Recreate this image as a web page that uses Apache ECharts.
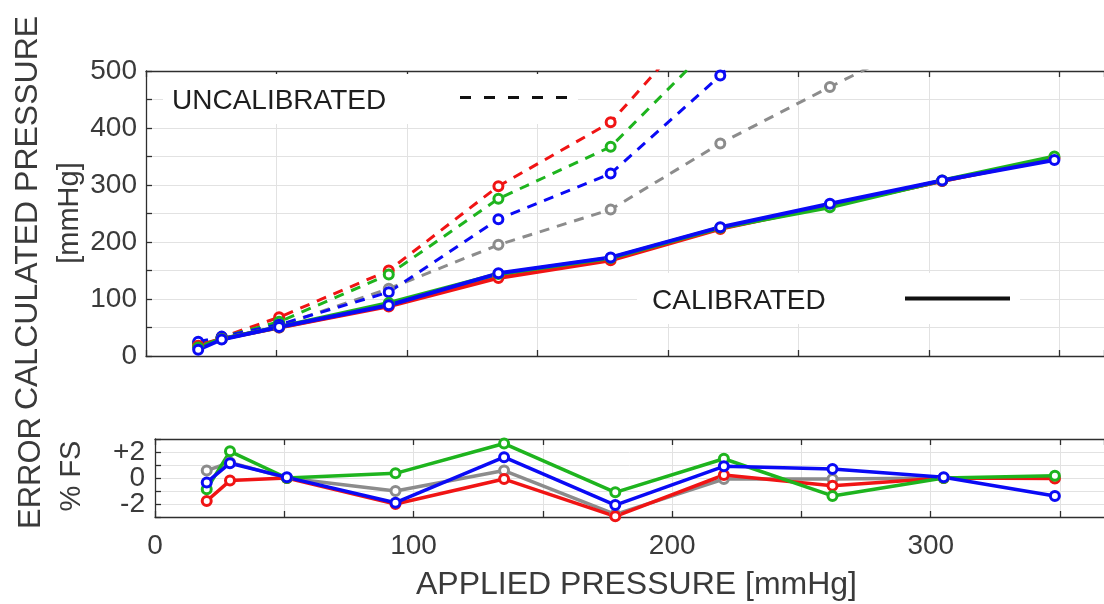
<!DOCTYPE html>
<html>
<head>
<meta charset="utf-8">
<title>Calculated pressure vs applied pressure</title>
<script src="https://cdn.jsdelivr.net/npm/echarts@6/dist/echarts.min.js"></script>
<style>
  html, body { margin: 0; padding: 0; background: #ffffff; overflow: hidden; }
  #chart { width: 1104px; height: 604px; }
</style>
</head>
<body>
<div id="chart"></div>
<script>
// Applied reference pressures [mmHg]
const appliedPressure = [20, 29, 51, 93, 135, 178, 220, 262, 305, 348];

// Uncalibrated sensor readings [mmHg] (null = off the top of the scale)
const uncalRed   = [23, 33, 68, 150, 298, 410, 625, null, null, null];
const uncalGreen = [23, 33, 60, 143, 276, 367, 560, null, null, null];
const uncalBlue  = [25, 34, 55, 112, 240, 320, 492, 680, null, null];
const uncalGray  = [22, 32, 53, 118, 195, 257, 373, 472, 570, null];

// Calibrated sensor readings [mmHg]
const calRed   = [18, 30, 50, 87, 137, 168, 223, 264, 307, 347];
const calGreen = [15, 30, 51, 93, 144, 172, 225, 261, 308, 350];
const calBlue  = [11, 29, 51, 89, 145, 173, 226, 267, 308, 344];
const calGray  = [17, 30, 50, 89, 140, 170, 224, 264, 307, 348];

// Error of calibrated readings [% full scale]
const errRed   = [-1.77, -0.2, 0.0, -2.0, -0.08, -2.95, 0.23, -0.6, 0.0, -0.03];
const errGreen = [-0.86, 2.05, 0.0, 0.36, 2.65, -1.1, 1.48, -1.38, 0.0, 0.18];
const errBlue  = [-0.34, 1.14, 0.05, -1.9, 1.6, -2.08, 0.9, 0.7, 0.05, -1.38];
const errGray  = [0.57, 1.2, 0.0, -1.0, 0.57, -2.8, -0.08, -0.08, 0.0, 0.0];

// Axis tick labels
const xTickLabels = [0, 100, 200, 300];
const pressureTickLabels = [0, 100, 200, 300, 400, 500];
const errorTickLabels = { '2': '+2', '0': '0', '-2': '-2' };

const COLORS = { red: '#f01414', green: '#1eb41e', blue: '#0a0af5', gray: '#8c8c8c' };
const FONT = 'Liberation Sans, Arial, Helvetica, sans-serif';
const TEXT = '#3a3a3a';
const AXIS = '#2e2e2e';
const GRID = '#e2e2e2';

function pairs(values) {
  const out = [];
  appliedPressure.forEach((x, i) => {
    if (values[i] !== null && values[i] !== undefined) out.push([x, values[i]]);
  });
  return out;
}

// open circle markers: white fill with a heavy coloured ring
function lineSeries(values, color, opts) {
  return Object.assign({
    type: 'line',
    data: pairs(values),
    symbol: 'circle',
    symbolSize: 9,
    clip: true,
    animation: false,
    silent: true,
    lineStyle: { color: color, width: 3.5 },
    itemStyle: { color: '#ffffff', borderColor: color, borderWidth: 3 },
    z: 3
  }, opts);
}

function xAxisBase(gridIndex, position, withLabels) {
  return {
    type: 'value',
    gridIndex: gridIndex,
    position: position,
    min: 0,
    max: 367,
    interval: 50,
    axisLine: { show: true, onZero: false, lineStyle: { color: AXIS, width: 1.3 } },
    axisTick: { show: true, inside: true, length: 6, lineStyle: { color: AXIS, width: 1.3 } },
    axisLabel: withLabels ? {
      show: true,
      margin: 15,
      fontSize: 28,
      fontFamily: FONT,
      color: TEXT,
      showMaxLabel: false,
      formatter: v => (xTickLabels.indexOf(v) >= 0 ? String(v) : '')
    } : { show: false },
    splitLine: { show: position === 'bottom', lineStyle: { color: GRID, width: 1 } }
  };
}

const chart = echarts.init(document.getElementById('chart'), null, { renderer: 'canvas' });

const option = {
  backgroundColor: '#ffffff',
  animation: false,
  grid: [
    { left: 146, right: -2, top: 71, height: 285, containLabel: false },
    { left: 155, right: -2, top: 439, height: 78, containLabel: false }
  ],
  xAxis: [
    xAxisBase(0, 'bottom', false),
    xAxisBase(0, 'top', false),
    Object.assign(xAxisBase(1, 'bottom', true), {
      name: 'APPLIED PRESSURE [mmHg]',
      nameLocation: 'middle',
      nameGap: 52,
      nameTextStyle: { fontSize: 32, fontFamily: FONT, color: TEXT, padding: [0, 0, 0, 14] }
    }),
    xAxisBase(1, 'top', false)
  ],
  yAxis: [
    {
      type: 'value',
      gridIndex: 0,
      min: 0,
      max: 500,
      interval: 50,
      axisLine: { show: true, lineStyle: { color: AXIS, width: 1.3 } },
      axisTick: { show: true, inside: true, length: 6, lineStyle: { color: AXIS, width: 1.3 } },
      axisLabel: {
        margin: 9,
        fontSize: 28,
        fontFamily: FONT,
        color: TEXT,
        formatter: v => (pressureTickLabels.indexOf(v) >= 0 ? String(v) : '')
      },
      splitLine: { show: true, lineStyle: { color: GRID, width: 1 } }
    },
    {
      type: 'value',
      gridIndex: 1,
      min: -3,
      max: 3,
      interval: 1,
      axisLine: { show: true, lineStyle: { color: AXIS, width: 1.3 } },
      axisTick: { show: true, inside: true, length: 6, lineStyle: { color: AXIS, width: 1.3 } },
      axisLabel: {
        margin: 10,
        fontSize: 28,
        fontFamily: FONT,
        color: TEXT,
        formatter: v => (errorTickLabels[String(v)] !== undefined ? errorTickLabels[String(v)] : '')
      },
      splitLine: { show: true, lineStyle: { color: GRID, width: 1 } }
    }
  ],
  series: [
    // uncalibrated, dashed
    lineSeries(uncalGray,  COLORS.gray,  { lineStyle: { color: COLORS.gray,  width: 3, type: [10, 8] } }),
    lineSeries(uncalRed,   COLORS.red,   { lineStyle: { color: COLORS.red,   width: 3, type: [10, 8] } }),
    lineSeries(uncalGreen, COLORS.green, { lineStyle: { color: COLORS.green, width: 3, type: [10, 8] } }),
    lineSeries(uncalBlue,  COLORS.blue,  { lineStyle: { color: COLORS.blue,  width: 3, type: [10, 8] } }),
    // calibrated, solid
    lineSeries(calGray,  COLORS.gray,  { lineStyle: { color: COLORS.gray,  width: 4 } }),
    lineSeries(calRed,   COLORS.red,   { lineStyle: { color: COLORS.red,   width: 4 } }),
    lineSeries(calGreen, COLORS.green, { lineStyle: { color: COLORS.green, width: 4 } }),
    lineSeries(calBlue,  COLORS.blue,  { lineStyle: { color: COLORS.blue,  width: 4 } }),
    // error panel
    lineSeries(errGray,  COLORS.gray,  { xAxisIndex: 2, yAxisIndex: 1 }),
    lineSeries(errRed,   COLORS.red,   { xAxisIndex: 2, yAxisIndex: 1 }),
    lineSeries(errGreen, COLORS.green, { xAxisIndex: 2, yAxisIndex: 1 }),
    lineSeries(errBlue,  COLORS.blue,  { xAxisIndex: 2, yAxisIndex: 1 })
  ],
  graphic: [
    // axis titles
    {
      type: 'text', x: 28, y: 213, rotation: Math.PI / 2, silent: true,
      style: { text: 'CALCULATED PRESSURE', fontSize: 32, fontFamily: FONT, fill: TEXT, align: 'center', verticalAlign: 'middle' }
    },
    {
      type: 'text', x: 70, y: 213, rotation: Math.PI / 2, silent: true,
      style: { text: '[mmHg]', fontSize: 29, fontFamily: FONT, fill: TEXT, align: 'center', verticalAlign: 'middle' }
    },
    {
      type: 'text', x: 31, y: 473, rotation: Math.PI / 2, silent: true,
      style: { text: 'ERROR', fontSize: 31, fontFamily: FONT, fill: TEXT, align: 'center', verticalAlign: 'middle' }
    },
    {
      type: 'text', x: 72, y: 476, rotation: Math.PI / 2, silent: true,
      style: { text: '% FS', fontSize: 29, fontFamily: FONT, fill: TEXT, align: 'center', verticalAlign: 'middle' }
    },
    // key: uncalibrated
    {
      type: 'rect', z: 10, silent: true,
      shape: { x: 163, y: 74, width: 415, height: 50 },
      style: { fill: '#ffffff' }
    },
    {
      type: 'text', z: 11, x: 172, y: 101, silent: true,
      style: { text: 'UNCALIBRATED', fontSize: 28, fontFamily: FONT, fill: '#1e1e1e', align: 'left', verticalAlign: 'middle' }
    },
    {
      type: 'line', z: 11, silent: true,
      shape: { x1: 460, y1: 97.5, x2: 567, y2: 97.5 },
      style: { stroke: '#111111', lineWidth: 3, lineDash: [11, 13] }
    },
    // key: calibrated
    {
      type: 'rect', z: 10, silent: true,
      shape: { x: 637, y: 273, width: 383, height: 51 },
      style: { fill: '#ffffff' }
    },
    {
      type: 'text', z: 11, x: 652, y: 301, silent: true,
      style: { text: 'CALIBRATED', fontSize: 28, fontFamily: FONT, fill: '#1e1e1e', align: 'left', verticalAlign: 'middle' }
    },
    {
      type: 'line', z: 11, silent: true,
      shape: { x1: 905, y1: 298.5, x2: 1010, y2: 298.5 },
      style: { stroke: '#111111', lineWidth: 4 }
    }
  ]
};

chart.setOption(option);
</script>
</body>
</html>
